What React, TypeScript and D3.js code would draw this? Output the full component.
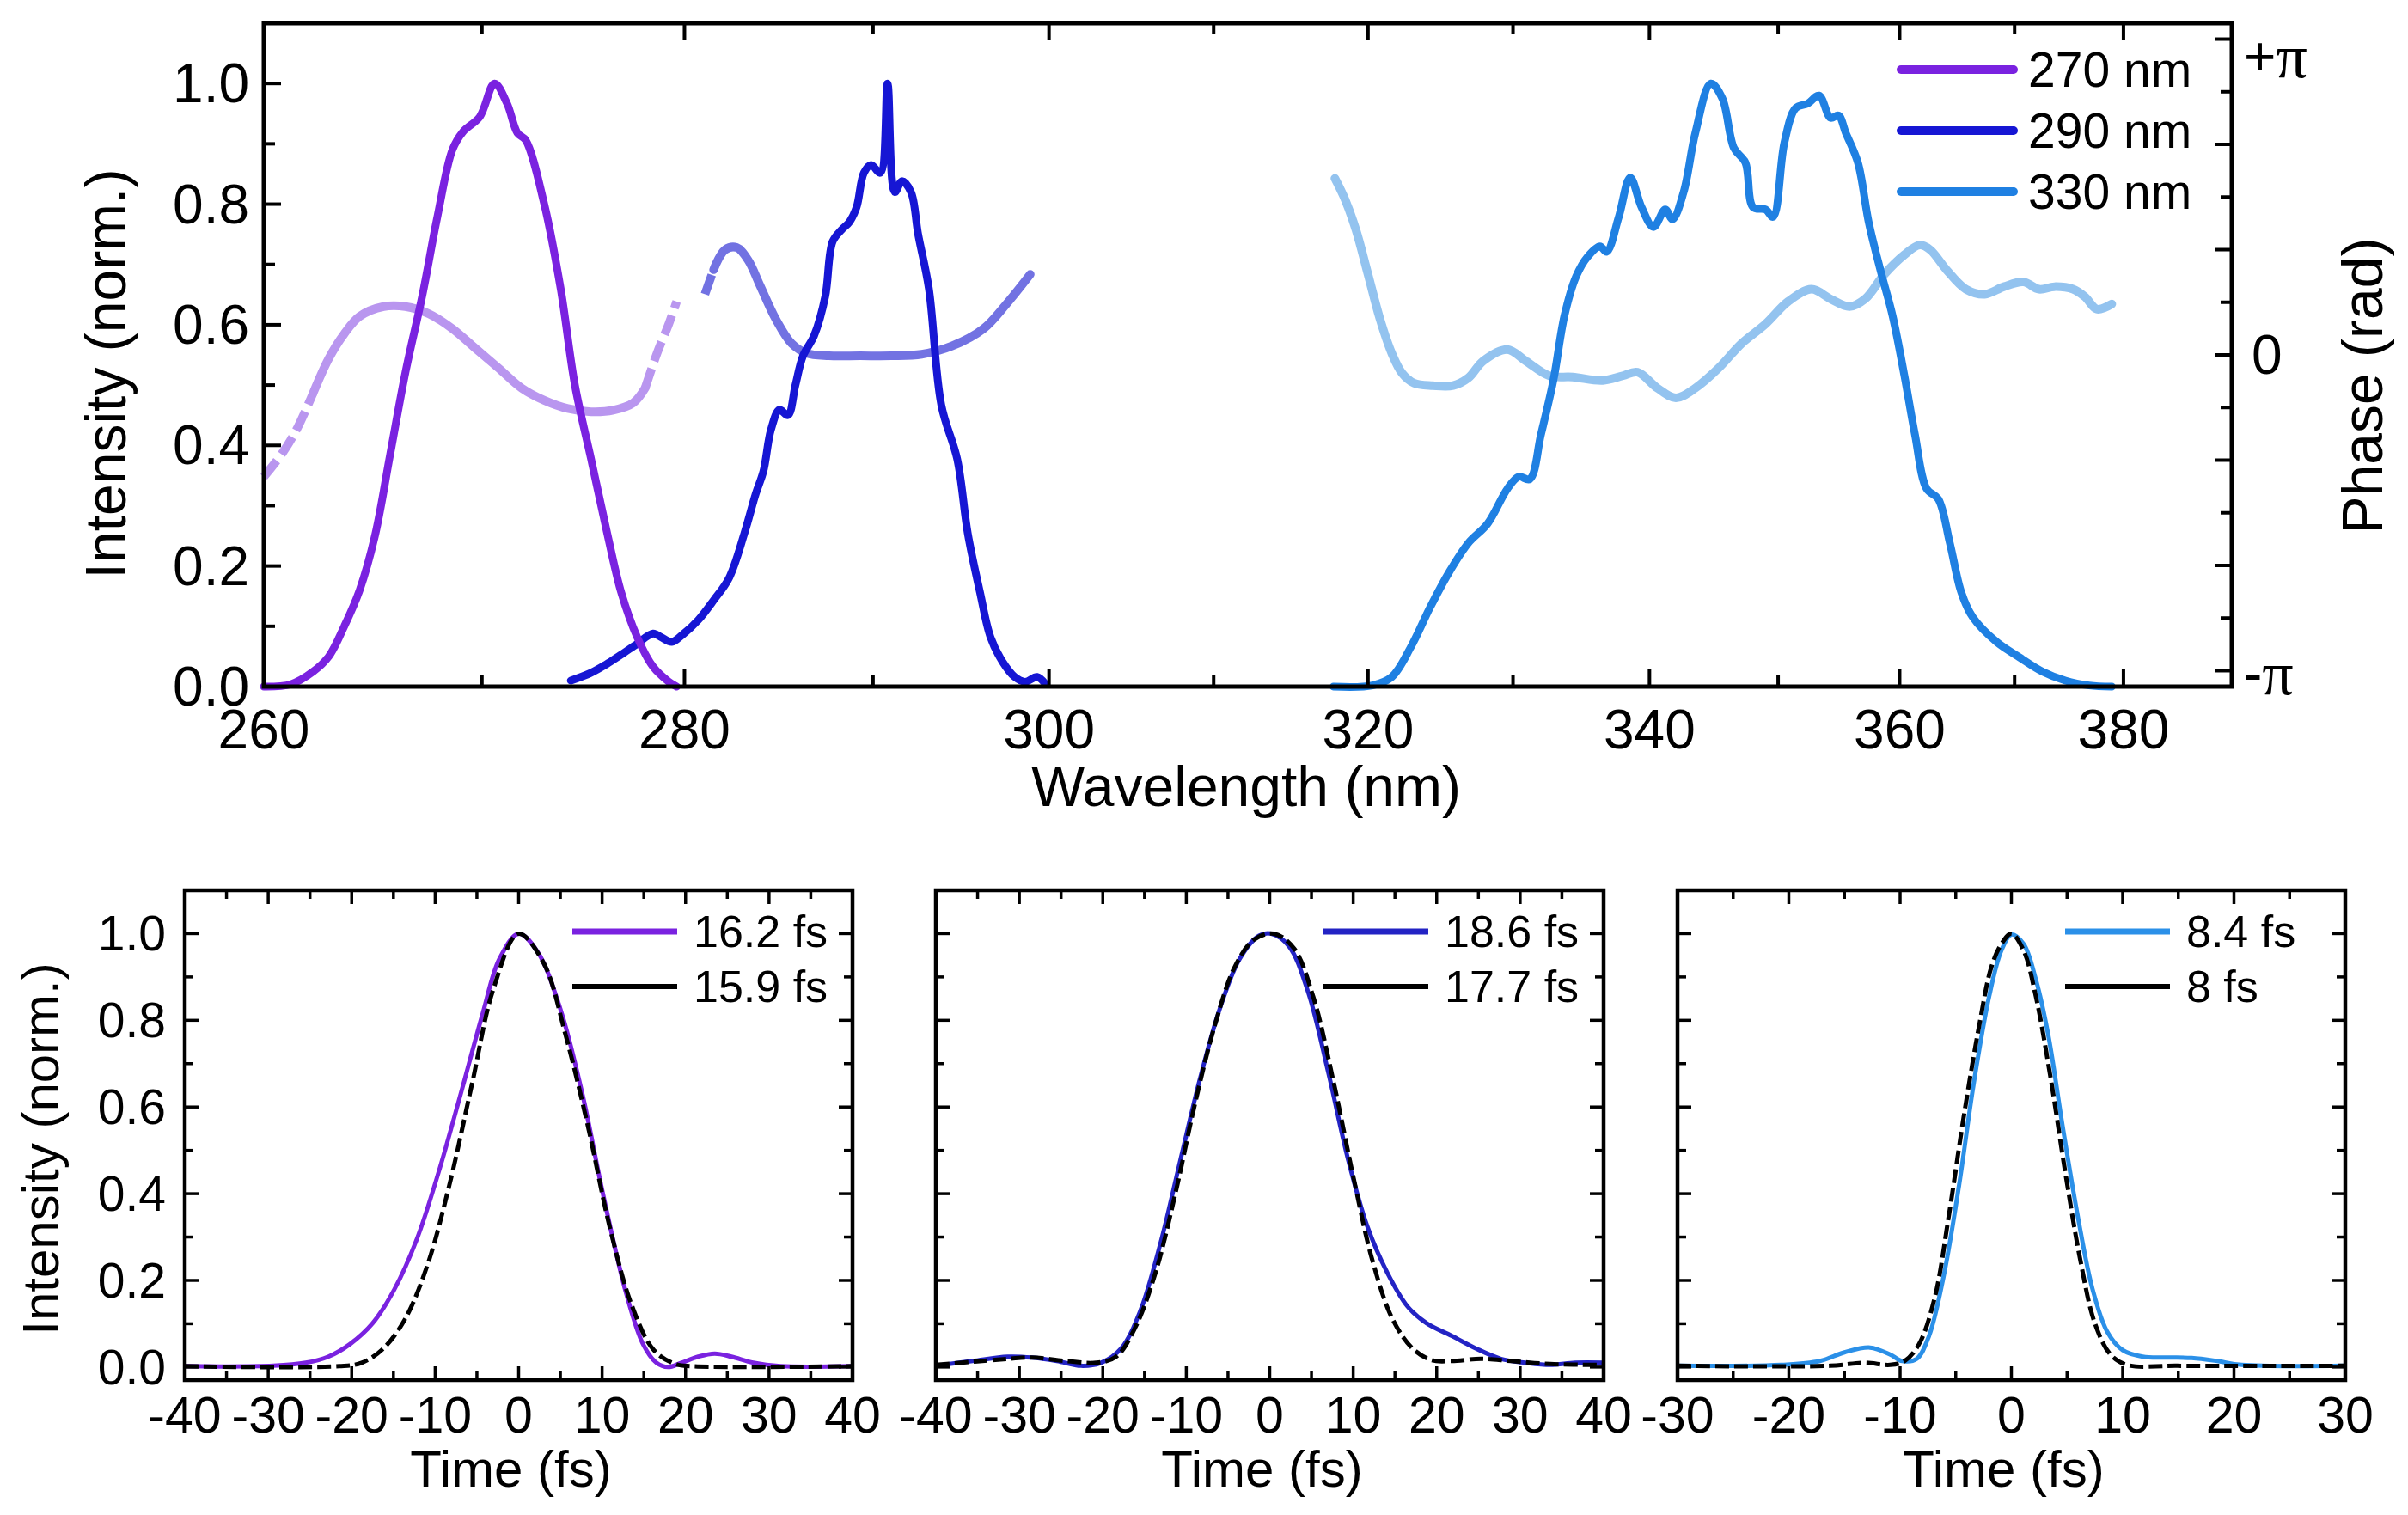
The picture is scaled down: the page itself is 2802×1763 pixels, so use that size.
import React from 'react';
import * as d3 from 'd3';

// ---------- top panel: spectra [wavelength nm, intensity norm.] ----------
const spec270: [number, number][] = [
  [260.0, 0], [261.2, 0.004], [262.2, 0.025], [262.9, 0.05], [263.6, 0.1], [264.3, 0.16],
  [265.0, 0.25], [265.7, 0.385], [266.4, 0.52], [267.2, 0.65], [267.9, 0.78], [268.6, 0.89],
  [269.1, 0.92], [269.9, 0.945], [270.6, 1.0], [271.2, 0.967], [271.7, 0.918], [272.1, 0.906],
  [273.0, 0.8], [273.8, 0.66], [274.5, 0.5], [275.3, 0.377], [276.1, 0.254], [276.8, 0.156],
  [277.6, 0.082], [278.4, 0.033], [279.2, 0.008], [279.6, 0],
];

const spec290: [number, number][] = [
  [274.3, 0.01], [275.3, 0.023], [276.05, 0.037], [276.8, 0.053], [277.6, 0.071], [278.4, 0.088],
  [278.8, 0.082], [279.35, 0.074], [279.9, 0.086], [280.7, 0.11], [281.5, 0.143], [282.3, 0.18],
  [283.1, 0.254], [283.7, 0.32], [284.1, 0.357], [284.5, 0.426], [284.95, 0.459], [285.4, 0.45],
  [285.8, 0.5], [286.2, 0.548], [286.8, 0.582], [287.4, 0.647], [287.8, 0.738], [288.3, 0.758],
  [288.7, 0.77], [289.1, 0.795], [289.5, 0.852], [289.9, 0.865], [290.4, 0.852], [290.8, 1.0],
  [291.2, 0.82], [291.6, 0.838], [292.1, 0.82], [292.5, 0.75], [293.1, 0.66], [293.8, 0.467],
  [294.7, 0.377], [295.3, 0.254], [296.0, 0.156], [296.6, 0.082], [297.3, 0.041], [298.0, 0.016],
  [298.6, 0.008], [299.3, 0.016], [299.8, 0.004],
];

const spec330: [number, number][] = [
  [317.7, 0], [320.3, 0.002], [321.6, 0.016], [322.9, 0.066], [324.2, 0.131], [325.5, 0.189],
  [326.85, 0.238], [328.2, 0.27], [329.6, 0.328], [330.4, 0.348], [331.2, 0.344], [332.0, 0.418],
  [332.9, 0.508], [333.7, 0.615], [334.55, 0.68], [335.4, 0.713], [336.3, 0.73], [336.8, 0.721],
  [337.7, 0.779], [338.55, 0.844], [339.4, 0.795], [340.3, 0.762], [341.2, 0.791], [341.75, 0.775],
  [342.6, 0.82], [343.5, 0.918], [344.7, 1.0], [345.6, 0.975], [346.5, 0.893], [347.4, 0.869],
  [348.0, 0.795], [349.0, 0.791], [349.6, 0.779], [350.5, 0.902], [351.4, 0.959], [352.4, 0.967],
  [353.3, 0.98], [354.25, 0.943], [354.9, 0.947], [355.5, 0.918], [356.5, 0.869], [357.4, 0.77],
  [358.4, 0.689], [359.4, 0.615], [360.4, 0.516], [361.3, 0.418], [362.3, 0.328], [363.3, 0.311],
  [364.3, 0.238], [365.3, 0.156], [366.3, 0.115], [368.4, 0.074], [370.4, 0.049], [372.5, 0.025],
  [374.6, 0.01], [376.8, 0.002], [378.9, 0],
];

// spectral phase [wavelength nm, phase / pi]
const phase270: [number, number][] = [
  [260.0, -0.386], [260.85, -0.308], [261.5, -0.23], [262.2, -0.12], [262.9, -0.011], [263.6, 0.067],
  [264.3, 0.122], [265.4, 0.153], [266.4, 0.153], [267.5, 0.13], [268.6, 0.083], [269.7, 0.02],
  [270.8, -0.042], [271.9, -0.105], [273.0, -0.144], [274.15, -0.17], [275.3, -0.18], [276.4, -0.175],
  [277.4, -0.152], [278.0, -0.105], [278.6, 0.005], [279.2, 0.098], [279.6, 0.169],
];

const phase290: [number, number][] = [
  [281.05, 0.192], [281.5, 0.27], [282.1, 0.333], [282.7, 0.34], [283.3, 0.3], [283.9, 0.223],
  [284.75, 0.114], [285.6, 0.036], [286.4, 0.005], [287.6, -0.003], [289.3, -0.003], [291.0, -0.003],
  [292.7, 0.002], [294.4, 0.028], [296.2, 0.083], [297.5, 0.16], [298.9, 0.255],
];

const phase330: [number, number][] = [
  [317.8, 0.559], [318.5, 0.489], [319.2, 0.395], [320.0, 0.255], [320.8, 0.114], [321.6, 0.005],
  [322.3, -0.058], [323.1, -0.089], [324.4, -0.097], [325.8, -0.097], [326.85, -0.073], [327.9, -0.019],
  [329.6, 0.017], [330.9, -0.019], [332.6, -0.066], [334.3, -0.07], [336.5, -0.081], [338.0, -0.066],
  [339.1, -0.055], [340.6, -0.105], [342.0, -0.136], [343.5, -0.105], [345.3, -0.042], [347.1, 0.036],
  [349.0, 0.098], [350.8, 0.169], [352.7, 0.208], [354.25, 0.177], [355.8, 0.153], [357.1, 0.177],
  [358.7, 0.255], [360.4, 0.317], [361.7, 0.348], [362.6, 0.333], [364.0, 0.27], [365.7, 0.208],
  [367.35, 0.192], [369.05, 0.216], [370.8, 0.231], [372.2, 0.208], [373.6, 0.216], [375.3, 0.208],
  [376.4, 0.184], [377.5, 0.145], [378.9, 0.161],
];

const spectrumLabels = ['270 nm', '290 nm', '330 nm'];
const wlMajor = [260, 280, 300, 320, 340, 360, 380];
const wlMinor = [270, 290, 310, 330, 350, 370];
const intMajor = [0, 0.2, 0.4, 0.6, 0.8, 1.0];
const intMinor = [0.1, 0.3, 0.5, 0.7, 0.9];
const phaseSteps = [-6, -5, -4, -3, -2, -1, 0, 1, 2, 3, 4, 5, 6]; // multiples of pi/6

// ---------- bottom panels: temporal intensity [time fs, intensity] ----------
const pulse270: [number, number][] = [
  [-40, 0.002], [-29.4, 0.003], [-25.5, 0.01], [-22.8, 0.024], [-20.2, 0.053], [-17.5, 0.101],
  [-14.9, 0.179], [-12.2, 0.295], [-9.6, 0.449], [-6.9, 0.633], [-4.3, 0.816], [-2.3, 0.942],
  [0, 1.0], [2.3, 0.957], [5.0, 0.826], [7.6, 0.633], [10.2, 0.391], [12.9, 0.169], [14.9, 0.053],
  [16.5, 0.01], [17.9, 0], [19.5, 0.01], [21.5, 0.024], [23.5, 0.031], [25.5, 0.024], [28.1, 0.01],
  [31.4, 0.002], [40, 0.002],
];
const limit270: [number, number][] = [
  [-40, 0.002], [-21.5, 0.002], [-18.8, 0.01], [-16.2, 0.043], [-13.6, 0.111], [-10.9, 0.237],
  [-8.3, 0.42], [-5.6, 0.652], [-3.0, 0.874], [0, 1.0], [3.0, 0.932], [5.6, 0.768], [8.3, 0.556],
  [10.9, 0.324], [13.6, 0.14], [16.2, 0.039], [18.8, 0.007], [20.8, 0.002], [40, 0.002],
];
const pulse290: [number, number][] = [
  [-40, 0.003], [-35.6, 0.014], [-31.4, 0.024], [-28.5, 0.022], [-25.5, 0.014], [-22.6, 0.003],
  [-20.2, 0.01], [-17.8, 0.043], [-15.5, 0.13], [-13.1, 0.285], [-10.7, 0.478], [-8.4, 0.662],
  [-6.0, 0.826], [-3.6, 0.942], [-1.3, 0.995], [0.2, 1.0], [2.3, 0.971], [4.6, 0.865], [7.0, 0.681],
  [9.4, 0.478], [11.7, 0.324], [14.1, 0.217], [16.5, 0.14], [18.8, 0.101], [21.8, 0.072],
  [24.7, 0.043], [27.7, 0.019], [30.6, 0.01], [33.6, 0.005], [36.6, 0.01], [40, 0.01],
];
const limit290: [number, number][] = [
  [-40, 0.005], [-31.4, 0.019], [-28.5, 0.022], [-24.4, 0.014], [-20.8, 0.01], [-18.4, 0.024],
  [-16.1, 0.092], [-13.7, 0.217], [-11.3, 0.401], [-9.0, 0.604], [-6.6, 0.787], [-4.2, 0.923],
  [-1.9, 0.986], [0.5, 1.0], [2.9, 0.966], [5.2, 0.855], [7.6, 0.662], [10.0, 0.44], [12.3, 0.246],
  [14.7, 0.111], [17.1, 0.043], [19.4, 0.016], [21.8, 0.014], [25.3, 0.019], [28.9, 0.014],
  [33.6, 0.007], [40, 0.005],
];
const pulse330: [number, number][] = [
  [-30, 0.003], [-20.7, 0.005], [-17.2, 0.014], [-15.0, 0.034], [-12.7, 0.045], [-10.9, 0.029],
  [-9.8, 0.014], [-8.5, 0.019], [-7.4, 0.072], [-6.1, 0.208], [-4.7, 0.42], [-3.4, 0.652],
  [-2.0, 0.855], [-0.9, 0.961], [0, 0.998], [1.1, 0.976], [2.2, 0.894], [3.3, 0.768], [4.6, 0.556],
  [6.0, 0.343], [7.3, 0.179], [8.6, 0.082], [10.0, 0.039], [11.8, 0.024], [14.0, 0.022],
  [16.2, 0.021], [18.5, 0.014], [20.7, 0.005], [30, 0.003],
];
const limit330: [number, number][] = [
  [-30, 0.003], [-16.3, 0.003], [-13.2, 0.01], [-10.9, 0.005], [-9.6, 0.014], [-8.3, 0.053],
  [-6.9, 0.159], [-5.6, 0.353], [-4.3, 0.575], [-2.9, 0.787], [-1.8, 0.923], [-0.9, 0.976],
  [0, 1.0], [1.1, 0.961], [2.2, 0.855], [3.5, 0.671], [4.9, 0.44], [6.2, 0.246], [7.5, 0.101],
  [8.9, 0.029], [10.4, 0.005], [14.9, 0.003], [30, 0.003],
];

const durationLabels = [['16.2 fs', '15.9 fs'], ['18.6 fs', '17.7 fs'], ['8.4 fs', '8 fs']];
const timeTicks40 = [-40, -30, -20, -10, 0, 10, 20, 30, 40];
const timeTicks30 = [-30, -20, -10, 0, 10, 20, 30];

const SANS = "'Liberation Sans', Arial, Helvetica, sans-serif";
const SERIF = "'Liberation Serif', 'Times New Roman', serif";

const W = 2802;
const H = 1763;

// top panel frame
const T = { left: 307, right: 2597, top: 27, bottom: 799 };
// the wavelength axis is linear in 1/lambda
const xWl = d3.scaleLinear().domain([1 / 260, 1 / 390.5]).range([T.left, T.right]);
const yInt = d3.scaleLinear().domain([0, 1.1]).range([T.bottom, T.top]);
const yPh = d3.scaleLinear().domain([-3.3, 3.3]).range([T.bottom, T.top]);

const specLine = d3.line<[number, number]>()
  .x(d => xWl(1 / d[0]))
  .y(d => yInt(d[1]))
  .curve(d3.curveCatmullRom.alpha(0.5));

const phaseLine = d3.line<[number, number]>()
  .x(d => xWl(1 / d[0]))
  .y(d => yPh(d[1] * Math.PI))
  .curve(d3.curveCatmullRom.alpha(0.5));

const colors = {
  c270: '#7a22e0', p270: '#b996ef',
  c290: '#1616d4', p290: '#7272e2',
  c330: '#1f80e2', p330: '#93c3ef',
  b290: '#2323c4', b330: '#2b90e8',
};

function PhaseCurve({ data, color, lo, hi }: { data: [number, number][]; color: string; lo: number; hi: number }) {
  const mid = data.filter(d => d[0] >= lo && d[0] <= hi);
  const leftPart = data.filter(d => d[0] <= lo);
  const rightPart = data.filter(d => d[0] >= hi);
  return (
    <g fill="none" stroke={color} strokeWidth={10} strokeLinejoin="round">
      {leftPart.length > 1 && <path d={phaseLine(leftPart) || ''} strokeDasharray="24,9" />}
      <path d={phaseLine(mid) || ''} strokeLinecap="round" />
      {rightPart.length > 1 && <path d={phaseLine(rightPart) || ''} strokeDasharray="24,9" />}
    </g>
  );
}

function TopPanel() {
  const majorLen = 20;
  const minorLen = 13;
  const legendColors = [colors.c270, colors.c290, colors.c330];
  const legendY = [81, 152, 223];
  return (
    <g>
      <PhaseCurve data={phase270} color={colors.p270} lo={262.2} hi={278.0} />
      <PhaseCurve data={phase290} color={colors.p290} lo={281.5} hi={999} />
      <PhaseCurve data={phase330} color={colors.p330} lo={0} hi={999} />

      <g fill="none" strokeWidth={9} strokeLinejoin="round" strokeLinecap="round">
        <path d={specLine(spec330) || ''} stroke={colors.c330} />
        <path d={specLine(spec290) || ''} stroke={colors.c290} />
        <path d={specLine(spec270) || ''} stroke={colors.c270} />
      </g>

      <rect x={T.left} y={T.top} width={T.right - T.left} height={T.bottom - T.top}
        fill="none" stroke="#000" strokeWidth={5} />

      <g stroke="#000" strokeWidth={4}>
        {wlMajor.map(v => (
          <g key={'M' + v}>
            <line x1={xWl(1 / v)} x2={xWl(1 / v)} y1={T.bottom} y2={T.bottom - majorLen} />
            <line x1={xWl(1 / v)} x2={xWl(1 / v)} y1={T.top} y2={T.top + majorLen} />
          </g>
        ))}
        {wlMinor.map(v => (
          <g key={'m' + v}>
            <line x1={xWl(1 / v)} x2={xWl(1 / v)} y1={T.bottom} y2={T.bottom - minorLen} />
            <line x1={xWl(1 / v)} x2={xWl(1 / v)} y1={T.top} y2={T.top + minorLen} />
          </g>
        ))}
        {intMajor.map(v => (
          <line key={'iM' + v} x1={T.left} x2={T.left + majorLen} y1={yInt(v)} y2={yInt(v)} />
        ))}
        {intMinor.map(v => (
          <line key={'im' + v} x1={T.left} x2={T.left + minorLen} y1={yInt(v)} y2={yInt(v)} />
        ))}
        {phaseSteps.map(k => (
          <line key={'p' + k} x1={T.right} x2={T.right - (k % 2 === 0 ? majorLen : minorLen)}
            y1={yPh((k * Math.PI) / 6)} y2={yPh((k * Math.PI) / 6)} />
        ))}
      </g>

      <g fontFamily={SANS} fontSize={64} fill="#000">
        {wlMajor.map(v => (
          <text key={'t' + v} x={xWl(1 / v)} y={871} textAnchor="middle">{v}</text>
        ))}
        {intMajor.map(v => (
          <text key={'it' + v} x={290} y={yInt(v)} textAnchor="end" dominantBaseline="central">{v.toFixed(1)}</text>
        ))}
        <text x={2611} y={yPh(Math.PI) + 20} dominantBaseline="central">+<tspan fontFamily={SERIF} fontSize={72}>π</tspan></text>
        <text x={2620} y={yPh(0)} dominantBaseline="central">0</text>
        <text x={2611} y={yPh(-Math.PI) + 4} dominantBaseline="central">-<tspan fontFamily={SERIF} fontSize={72}>π</tspan></text>
      </g>

      <g fontFamily={SANS} fontSize={66} fill="#000" textAnchor="middle">
        <text x={1450} y={938}>Wavelength (nm)</text>
        <text transform={`translate(146,${435}) rotate(-90)`}>Intensity (norm.)</text>
        <text transform={`translate(2772,${449}) rotate(-90)`}>Phase (rad)</text>
      </g>

      <g>
        {spectrumLabels.map((lab, i) => (
          <g key={lab}>
            <line x1={2212} x2={2343} y1={legendY[i]} y2={legendY[i]} stroke={legendColors[i]}
              strokeWidth={10} strokeLinecap="round" />
            <text x={2360} y={legendY[i]} fontFamily={SANS} fontSize={57} dominantBaseline="central">{lab}</text>
          </g>
        ))}
      </g>
    </g>
  );
}

const B = { top: 1036, bottom: 1606, width: 777 };
const yPulse = d3.scaleLinear().domain([-0.03, 1.1]).range([B.bottom, B.top]);

interface PanelProps {
  left: number;
  domain: [number, number];
  ticks: number[];
  measured: [number, number][];
  limit: [number, number][];
  color: string;
  labels: string[];
  showY: boolean;
}

function BottomPanel({ left, domain, ticks, measured, limit, color, labels, showY }: PanelProps) {
  const x = d3.scaleLinear().domain(domain).range([left, left + B.width]);
  const line = d3.line<[number, number]>()
    .x(d => x(d[0]))
    .y(d => yPulse(d[1]))
    .curve(d3.curveCatmullRom.alpha(0.5));
  const minor = d3.range(domain[0] + 5, domain[1], 10);
  const majorLen = 16;
  const minorLen = 10;
  const right = left + B.width;
  return (
    <g>
      <path d={line(measured) || ''} fill="none" stroke={color} strokeWidth={5} strokeLinejoin="round" />
      <path d={line(limit) || ''} fill="none" stroke="#000" strokeWidth={5} strokeDasharray="16,6" />

      <rect x={left} y={B.top} width={B.width} height={B.bottom - B.top} fill="none" stroke="#000" strokeWidth={4.5} />

      <g stroke="#000" strokeWidth={3.5}>
        {ticks.map(v => (
          <g key={'M' + v}>
            <line x1={x(v)} x2={x(v)} y1={B.bottom} y2={B.bottom - majorLen} />
            <line x1={x(v)} x2={x(v)} y1={B.top} y2={B.top + majorLen} />
          </g>
        ))}
        {minor.map(v => (
          <g key={'m' + v}>
            <line x1={x(v)} x2={x(v)} y1={B.bottom} y2={B.bottom - minorLen} />
            <line x1={x(v)} x2={x(v)} y1={B.top} y2={B.top + minorLen} />
          </g>
        ))}
        {intMajor.map(v => (
          <g key={'yM' + v}>
            <line x1={left} x2={left + majorLen} y1={yPulse(v)} y2={yPulse(v)} />
            <line x1={right} x2={right - majorLen} y1={yPulse(v)} y2={yPulse(v)} />
          </g>
        ))}
        {intMinor.map(v => (
          <g key={'ym' + v}>
            <line x1={left} x2={left + minorLen} y1={yPulse(v)} y2={yPulse(v)} />
            <line x1={right} x2={right - minorLen} y1={yPulse(v)} y2={yPulse(v)} />
          </g>
        ))}
      </g>

      <g fontFamily={SANS} fill="#000">
        {ticks.map(v => (
          <text key={'t' + v} x={x(v)} y={1667} fontSize={59} textAnchor="middle">{v}</text>
        ))}
        {showY && intMajor.map(v => (
          <text key={'yt' + v} x={left - 22} y={yPulse(v)} fontSize={57} textAnchor="end" dominantBaseline="central">{v.toFixed(1)}</text>
        ))}
        <text x={left + B.width / 2 - 9} y={1730} fontSize={60} textAnchor="middle">Time (fs)</text>
      </g>

      <g>
        <line x1={left + 451} x2={left + 573} y1={1084} y2={1084} stroke={color} strokeWidth={7} />
        <line x1={left + 451} x2={left + 573} y1={1148} y2={1148} stroke="#000" strokeWidth={6} />
        <text x={left + 592} y={1084} fontFamily={SANS} fontSize={52} dominantBaseline="central">{labels[0]}</text>
        <text x={left + 592} y={1148} fontFamily={SANS} fontSize={52} dominantBaseline="central">{labels[1]}</text>
      </g>
    </g>
  );
}

export default function App() {
  return (
    <svg width={W} height={H} viewBox={`0 0 ${W} ${H}`}
      style={{ position: 'absolute', left: 0, top: 0, background: '#fff' }}>
      <rect x={0} y={0} width={W} height={H} fill="#fff" />
      <TopPanel />
      <BottomPanel left={215} domain={[-40, 40]} ticks={timeTicks40} measured={pulse270} limit={limit270}
        color={colors.c270} labels={durationLabels[0]} showY />
      <BottomPanel left={1089} domain={[-40, 40]} ticks={timeTicks40} measured={pulse290} limit={limit290}
        color={colors.b290} labels={durationLabels[1]} showY={false} />
      <BottomPanel left={1952} domain={[-30, 30]} ticks={timeTicks30} measured={pulse330} limit={limit330}
        color={colors.b330} labels={durationLabels[2]} showY={false} />
      <text transform="translate(68,1337) rotate(-90)" fontFamily={SANS} fontSize={60} textAnchor="middle">Intensity (norm.)</text>
    </svg>
  );
}
